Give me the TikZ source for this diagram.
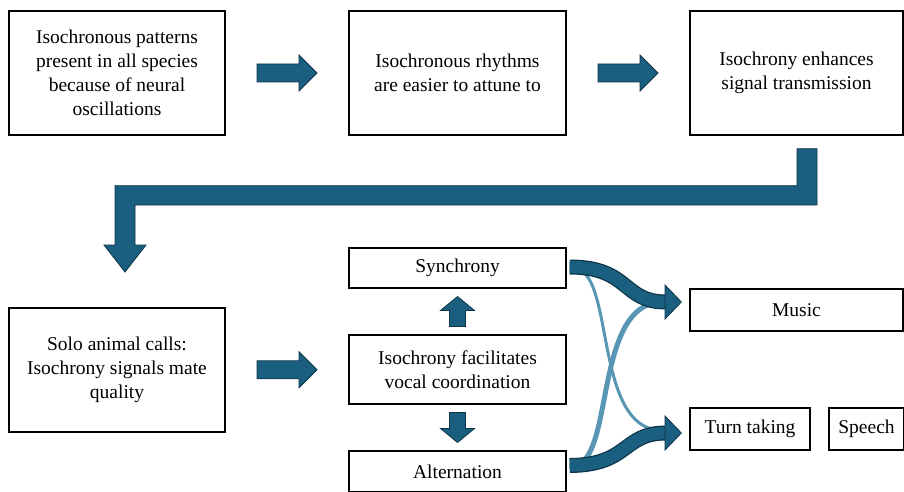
\documentclass[tikz,border=0pt]{standalone}
\usepackage{fontspec}
\setmainfont{Liberation Serif}
\usetikzlibrary{calc}
\definecolor{bfill}{RGB}{26,94,128}
\definecolor{bline}{RGB}{14,52,72}
\definecolor{lightc}{RGB}{88,150,180}
\tikzset{
  box/.style={draw=black, line width=1.3pt, fill=white, align=center, inner sep=0pt,
    font=\fontsize{19.5}{24}\selectfont},
  blk/.style={fill=bfill, draw=bline, line width=0.8pt, line join=miter},
  rblock/.pic={\path[blk] (-30,-9) -- (12,-9) -- (12,-18) -- (30,0) -- (12,18) -- (12,9) -- (-30,9) -- cycle;},
  vblock/.pic={\path[blk] (-15,-8) -- (1,-8) -- (1,-17) -- (15,0) -- (1,17) -- (1,8) -- (-15,8) -- cycle;},
}
\begin{document}
\begin{tikzpicture}[x=1pt,y=-1pt]
\useasboundingbox (0,0) rectangle (904,492);
% boxes
\node[box, minimum width=216pt, minimum height=124pt] (b1) at (117,73) {Isochronous patterns\\present in all species\\because of neural\\oscillations};
\node[box, minimum width=217pt, minimum height=124pt] (b2) at (457.5,73) {Isochronous rhythms\\are easier to attune to};
\node[box, minimum width=213pt, minimum height=124pt] (b3) at (796.5,73) {Isochrony enhances\\signal transmission};
\node[box, minimum width=216pt, minimum height=124pt] (b4) at (117,370) {Solo animal calls:\\Isochrony signals mate\\quality};
\node[box, minimum width=217pt, minimum height=40pt] (syn) at (457.5,268) {Synchrony};
\node[box, minimum width=217pt, minimum height=69pt] (fac) at (457.5,369.5) {Isochrony facilitates\\vocal coordination};
\node[box, minimum width=217pt, minimum height=41pt] (alt) at (457.5,471.5) {Alternation};
\node[box, minimum width=213pt, minimum height=42pt] (mus) at (796.5,310) {Music};
\node[box, minimum width=120pt, minimum height=42pt] (turn) at (750,429) {Turn taking};
\node[box, minimum width=75pt, minimum height=42pt] (sp) at (866.5,429) {Speech};
% straight block arrows
\pic at ($(b1.east)!0.5!(b2.west)+(0,0)$) {rblock};
\pic at ($(b2.east)!0.5!(b3.west)+(0,0)$) {rblock};
\pic at ($(b4.east)!0.5!(fac.west)+(0,0)$) {rblock};
\pic[rotate=90] at ($(syn.south)!0.5!(fac.north)$) {vblock};
\pic[rotate=-90] at ($(fac.south)!0.5!(alt.north)$) {vblock};
% bent arrow
\coordinate (bs) at ($(b3.south)+(10.5,13)$);
\coordinate (be) at (125,272);
\path[blk] ($(bs)+(-10,0)$) -- ($(bs)+(10,0)$) |- (135,205) -- (135,245) -- (146,245) -- (be) -- (104,245) -- (115,245) |- ($(bs)+(-10,37)$) -- cycle;
% curved connectors
\coordinate (s0) at ($(syn.east)+(3,-1)$);
\coordinate (a0) at ($(alt.east)+(3,-6)$);
\coordinate (mh) at (666,302);
\coordinate (th) at (666,433);
% light curves
\draw[lightc, line width=3pt] ($(s0)+(12,4)$) .. controls (612,290) and (598,425) .. ($(th)+(-8,-3)$);
\draw[lightc, line width=5pt] ($(a0)+(12,-3)$) .. controls (612,440) and (598,306) .. ($(mh)+(-6,0)$);
% dark curves
\draw[bline, line width=15pt] (s0) .. controls (630,267) and (622,302) .. (mh);
\draw[bfill, line width=12.5pt] (s0) .. controls (630,267) and (622,302) .. (mh);
\draw[bline, line width=15pt] (a0) .. controls (630,465) and (622,433) .. (th);
\draw[bfill, line width=12.5pt] (a0) .. controls (630,465) and (622,433) .. (th);
\path[blk] ($(mh)+(-1,-17)$) -- ($(mus.west)+(-8,-8)$) -- ($(mh)+(-1,17)$) -- cycle;
\path[blk] ($(th)+(-1,-17)$) -- ($(turn.west)+(-8,4)$) -- ($(th)+(-1,17)$) -- cycle;
\end{tikzpicture}
\end{document}
